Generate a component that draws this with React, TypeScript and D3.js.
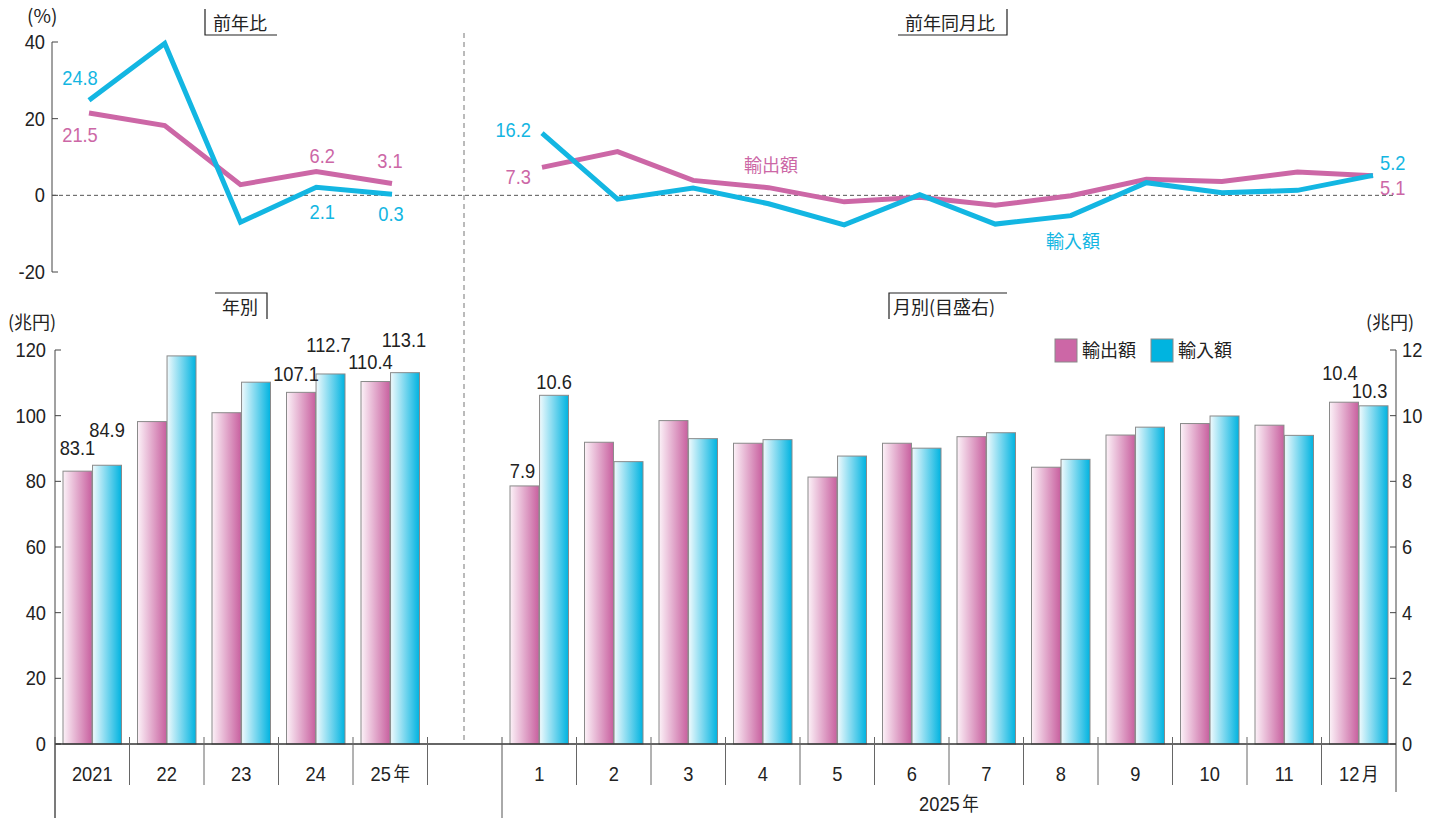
import * as d3 from "d3";
import * as React from "react";

// annual values (兆円)
const years = ["2021", "22", "23", "24", "25年"];
const yearExports = [83.1, 98.2, 100.9, 107.1, 110.4];
const yearImports = [84.9, 118.2, 110.2, 112.7, 113.1];

// monthly values 2025 (兆円)
const months = ["1", "2", "3", "4", "5", "6", "7", "8", "9", "10", "11", "12月"];
const monthExports = [7.86, 9.19, 9.85, 9.16, 8.13, 9.16, 9.36, 8.43, 9.41, 9.76, 9.71, 10.41];
const monthImports = [10.62, 8.6, 9.3, 9.27, 8.77, 9.01, 9.48, 8.67, 9.65, 9.99, 9.4, 10.3];

// growth rates (%)
const yearExportGrowth = [21.5, 18.2, 2.8, 6.2, 3.1];
const yearImportGrowth = [24.8, 39.6, -7.0, 2.1, 0.3];
const monthExportGrowth = [7.3, 11.4, 3.9, 2.0, -1.7, -0.5, -2.6, -0.1, 4.2, 3.6, 6.1, 5.1];
const monthImportGrowth = [16.2, -1.0, 1.9, -2.2, -7.7, 0.2, -7.5, -5.3, 3.3, 0.7, 1.3, 5.2];

const pctTicks = [-20, 0, 20, 40];
const yenTicks = [0, 20, 40, 60, 80, 100, 120];
const monthYenTicks = [0, 2, 4, 6, 8, 10, 12];

const PINK = "#cc67a6";
const CYAN = "#13b6e2";
const INK = "#222";
const NUM = '"Liberation Sans", Arial, sans-serif';
const JP = '"Noto Sans CJK JP", sans-serif';

const W = 1434;
const H = 818;

// condensed-looking numbers (no narrow font installed)
const NumText = (p: {
  x: number;
  y: number;
  anchor?: string;
  fill?: string;
  size?: number;
  children: React.ReactNode;
}) => (
  <text
    transform={`translate(${p.x},${p.y}) scale(0.87,1)`}
    textAnchor={p.anchor || "middle"}
    fontFamily={NUM}
    fontSize={p.size || 21}
    fill={p.fill || INK}
  >
    {p.children}
  </text>
);

export default function App() {
  // top: growth rate lines
  const yPct = d3.scaleLinear().domain([-20, 40]).range([272, 42]);
  const xYearPt = d3.scalePoint<string>().domain(years).range([89, 392]);
  const xMonthPt = d3.scalePoint<string>().domain(months).range([542, 1373]);

  // bottom: bars
  const cats = [...years, "_gap", ...months];
  const x0 = d3.scaleBand<string>().domain(cats).range([55, 1396]);
  const bw = x0.bandwidth();
  const x1 = d3.scaleBand<string>().domain(["exp", "imp"]).range([8, bw - 8]).paddingInner(0.02);
  const yYen = d3.scaleLinear().domain([0, 120]).range([744, 350]);
  const yMon = d3.scaleLinear().domain([0, 12]).range([744, 350]);

  const line = (xs: d3.ScalePoint<string>, keys: string[]) =>
    d3
      .line<number>()
      .x((_, i) => xs(keys[i])!)
      .y((d) => yPct(d));

  const yLine = line(xYearPt, years);
  const mLine = line(xMonthPt, months);

  const bars: { key: string; s: string; v: number; y: d3.ScaleLinear<number, number> }[] = [];
  years.forEach((k, i) => {
    bars.push({ key: k, s: "exp", v: yearExports[i], y: yYen });
    bars.push({ key: k, s: "imp", v: yearImports[i], y: yYen });
  });
  months.forEach((k, i) => {
    bars.push({ key: k, s: "exp", v: monthExports[i], y: yMon });
    bars.push({ key: k, s: "imp", v: monthImports[i], y: yMon });
  });

  // value labels on selected bars: [category, series, text, dx, dy]
  const barLabels: [string, string, string, number, number][] = [
    ["2021", "exp", "83.1", 0, -16],
    ["2021", "imp", "84.9", 0, -28],
    ["24", "exp", "107.1", -5, -11],
    ["24", "imp", "112.7", -2, -22],
    ["25年", "exp", "110.4", -5, -13],
    ["25年", "imp", "113.1", -1, -26],
    ["1", "exp", "7.9", -2, -8],
    ["1", "imp", "10.6", 0, -6],
    ["12月", "exp", "10.4", -4, -22],
    ["12月", "imp", "10.3", -4, -8],
  ];
  const barOf = (k: string, s: string) => bars.find((b) => b.key === k && b.s === s)!;

  // growth labels: [points scale, keys, series, index, text, dx, dy, anchor, color]
  const pctLabels: [d3.ScalePoint<string>, string[], number[], number, string, number, number, string, string][] = [
    [xYearPt, years, yearImportGrowth, 0, "24.8", -9, -15, "middle", CYAN],
    [xYearPt, years, yearExportGrowth, 0, "21.5", -9, 29, "middle", PINK],
    [xYearPt, years, yearExportGrowth, 3, "6.2", 6, -9, "middle", PINK],
    [xYearPt, years, yearExportGrowth, 4, "3.1", -2, -15, "middle", PINK],
    [xYearPt, years, yearImportGrowth, 3, "2.1", 6, 32, "middle", CYAN],
    [xYearPt, years, yearImportGrowth, 4, "0.3", -1, 27, "middle", CYAN],
    [xMonthPt, months, monthImportGrowth, 0, "16.2", -11, 4, "end", CYAN],
    [xMonthPt, months, monthExportGrowth, 0, "7.3", -11, 17, "end", PINK],
    [xMonthPt, months, monthImportGrowth, 11, "5.2", 7, -5, "start", CYAN],
    [xMonthPt, months, monthExportGrowth, 11, "5.1", 7, 19, "start", PINK],
  ];

  const boundaries = cats.slice(1).map((c) => x0(c)!).concat([x0.range()[1]]);
  const longLines = [x0("2021")!, x0("1")!];

  return (
    <svg width={W} height={H} style={{ position: "absolute", left: 0, top: 0, background: "#fff" }}>
      <defs>
        <linearGradient id="gPink" x1="0" x2="1" y1="0" y2="0">
          <stop offset="0" stopColor="#fcf2f8" />
          <stop offset="1" stopColor="#c8609f" />
        </linearGradient>
        <linearGradient id="gCyan" x1="0" x2="1" y1="0" y2="0">
          <stop offset="0" stopColor="#f0fafd" />
          <stop offset="1" stopColor="#00b3e0" />
        </linearGradient>
      </defs>

      {/* panel titles */}
      <g fontFamily={JP} fontSize={18} fill={INK} stroke="none">
        <text x={213} y={30}>前年比</text>
        <text x={905} y={30}>前年同月比</text>
        <text x={222} y={314}>年別</text>
        <text x={893} y={314}>月別(目盛右)</text>
      </g>
      <g stroke={INK} strokeWidth={1.2} fill="none">
        <path d="M205,9V35H277" />
        <path d="M898,35H1007V9" />
        <path d="M215,293H267V319" />
        <path d="M1007,293H889V319" />
      </g>

      {/* units */}
      <text x={27} y={23} fontFamily={JP} fontSize={19} fill={INK}>(%)</text>
      <text x={8} y={329} fontFamily={JP} fontSize={18} fill={INK}>(兆円)</text>
      <text x={1366} y={329} fontFamily={JP} fontSize={18} fill={INK}>(兆円)</text>

      {/* divider */}
      <line x1={464} x2={464} y1={33} y2={744} stroke="#777" strokeDasharray="5,4" />

      {/* top axis */}
      <line x1={52} x2={52} y1={yPct(40)} y2={yPct(-20)} stroke="#444" />
      {pctTicks.map((t) => (
        <g key={t}>
          <line x1={52} x2={58} y1={yPct(t)} y2={yPct(t)} stroke="#444" />
          <NumText x={45} y={yPct(t) + 7} anchor="end">
            {t}
          </NumText>
        </g>
      ))}
      <line x1={52} x2={1393} y1={yPct(0)} y2={yPct(0)} stroke="#555" strokeDasharray="4,3" />

      {/* growth lines */}
      <g fill="none" strokeWidth={5}>
        <path d={yLine(yearExportGrowth)!} stroke={PINK} />
        <path d={yLine(yearImportGrowth)!} stroke={CYAN} />
        <path d={mLine(monthExportGrowth)!} stroke={PINK} />
        <path d={mLine(monthImportGrowth)!} stroke={CYAN} />
      </g>
      {pctLabels.map(([xs, keys, vals, i, txt, dx, dy, anchor, color], j) => (
        <NumText key={j} x={xs(keys[i])! + dx} y={yPct(vals[i]) + dy} anchor={anchor} fill={color}>
          {txt}
        </NumText>
      ))}
      <text x={771} y={172} textAnchor="middle" fontFamily={JP} fontSize={18} fill={PINK}>輸出額</text>
      <text x={1073} y={248} textAnchor="middle" fontFamily={JP} fontSize={18} fill={CYAN}>輸入額</text>

      {/* bars */}
      {bars.map((b, i) => {
        const x = x0(b.key)! + x1(b.s)!;
        const y = b.y(b.v);
        return (
          <rect
            key={i}
            x={x}
            y={y}
            width={x1.bandwidth()}
            height={b.y(0) - y}
            fill={b.s === "exp" ? "url(#gPink)" : "url(#gCyan)"}
            stroke="#8a8a8a"
            strokeWidth={1}
          />
        );
      })}
      {barLabels.map(([k, s, txt, dx, dy], j) => {
        const b = barOf(k, s);
        return (
          <NumText key={j} x={x0(k)! + x1(s)! + x1.bandwidth() / 2 + dx} y={b.y(b.v) + dy}>
            {txt}
          </NumText>
        );
      })}

      {/* left axis */}
      <line x1={55} x2={55} y1={yYen(120)} y2={818} stroke="#444" />
      {yenTicks.map((t) => (
        <g key={t}>
          <line x1={55} x2={61} y1={yYen(t)} y2={yYen(t)} stroke="#444" />
          <NumText x={46} y={yYen(t) + 7} anchor="end">
            {t}
          </NumText>
        </g>
      ))}

      {/* right axis */}
      <line x1={1396} x2={1396} y1={yMon(12)} y2={792} stroke="#444" />
      {monthYenTicks.map((t) => (
        <g key={t}>
          <line x1={1390} x2={1396} y1={yMon(t)} y2={yMon(t)} stroke="#444" />
          <NumText x={1402} y={yMon(t) + 7} anchor="start">
            {t}
          </NumText>
        </g>
      ))}

      {/* baseline and category separators */}
      <line x1={55} x2={1396} y1={744} y2={744} stroke="#333" strokeWidth={1.5} />
      {boundaries
        .filter((x) => !longLines.includes(x) && x < 1390)
        .map((x, i) => (
          <line key={i} x1={x} x2={x} y1={737} y2={785} stroke="#666" />
        ))}
      {longLines.map((x, i) => (
        <line key={i} x1={x} x2={x} y1={737} y2={818} stroke="#555" />
      ))}
      {[...years, ...months].map((c) => (
        <NumText key={c} x={x0(c)! + bw / 2} y={781}>
          {c.replace(/[年月]/, "")}
          {/[年月]/.test(c) && (
            <tspan fontFamily={JP} fontSize={19} dx={3}>
              {c.slice(-1)}
            </tspan>
          )}
        </NumText>
      ))}
      <NumText x={(x0("1")! + x0.range()[1]) / 2} y={811}>
        2025
        <tspan fontFamily={JP} fontSize={19} dx={3}>年</tspan>
      </NumText>

      {/* legend */}
      <g fontFamily={JP} fontSize={18} fill={INK}>
        <rect x={1055} y={339} width={22} height={23} fill={PINK} stroke="#8a8a8a" />
        <text x={1082} y={357}>輸出額</text>
        <rect x={1151} y={339} width={22} height={23} fill="#00b4e0" stroke="#8a8a8a" />
        <text x={1178} y={357}>輸入額</text>
      </g>
    </svg>
  );
}
